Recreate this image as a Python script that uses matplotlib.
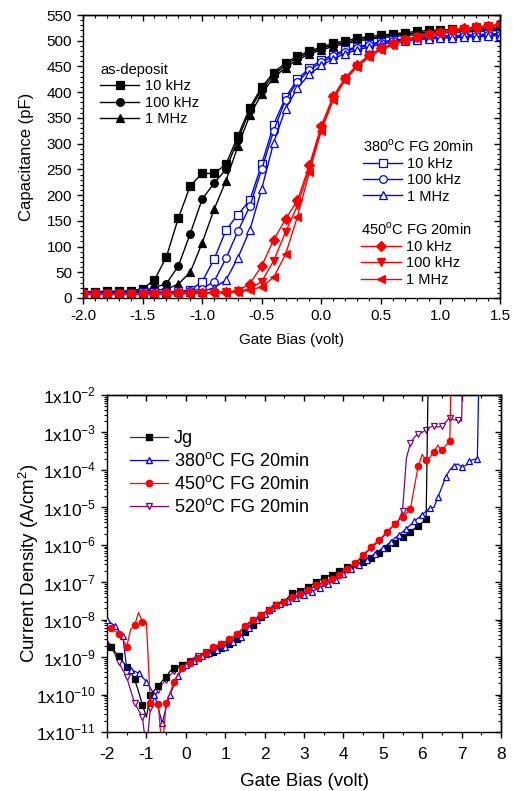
import numpy as np
import matplotlib
matplotlib.use("Agg")
import matplotlib.pyplot as plt
from matplotlib.ticker import MultipleLocator, LogLocator, NullFormatter, FuncFormatter
from matplotlib.lines import Line2D
from matplotlib.legend import Legend

plt.rcParams['font.family'] = ['Liberation Sans', 'DejaVu Sans']
plt.rcParams['axes.unicode_minus'] = False
plt.rcParams['mathtext.fontset'] = 'custom'
plt.rcParams['mathtext.rm'] = 'Liberation Sans'

# ---- C-V data (top panel), pF ----
cv_bias = np.round(np.arange(-2.0, 1.51, 0.1), 1)

asdep_10k = [12, 12, 13, 13, 14, 18, 35, 80, 155, 218, 242, 242, 260, 315, 370, 410, 438, 457,
             470, 480, 488, 495, 500, 505, 508, 511, 513, 516, 518, 520, 521, 522, 523, 524, 525, 526]
asdep_100k = [11, 11, 12, 12, 13, 14, 20, 28, 62, 125, 192, 223, 250, 308, 365, 405, 433, 453,
              467, 477, 485, 492, 497, 502, 505, 508, 511, 513, 515, 517, 518, 519, 520, 521, 522, 523]
asdep_1M = [10, 10, 11, 11, 12, 13, 15, 17, 27, 50, 107, 172, 228, 295, 355, 397, 428, 448,
            463, 474, 482, 489, 494, 499, 503, 506, 508, 510, 512, 514, 515, 516, 517, 518, 519, 520]

fg380_10k = [10, 10, 10, 10, 10, 11, 11, 12, 13, 15, 32, 75, 132, 162, 190, 260, 337, 390,
             425, 447, 462, 473, 482, 488, 493, 498, 501, 504, 506, 508, 509, 510, 511, 512, 513, 514]
fg380_100k = [9, 9, 9, 9, 10, 10, 10, 11, 12, 13, 18, 32, 77, 130, 178, 250, 325, 385,
              420, 443, 458, 470, 479, 486, 491, 496, 499, 502, 504, 506, 507, 508, 509, 510, 511, 512]
fg380_1M = [8, 8, 8, 9, 9, 9, 10, 10, 11, 12, 12, 20, 35, 78, 132, 212, 302, 368,
            408, 435, 452, 465, 475, 482, 488, 493, 497, 500, 502, 504, 505, 506, 507, 508, 509, 510]

fg450_10k = [9, 8, 8, 8, 8, 8, 8, 9, 9, 10, 10, 11, 12, 14, 28, 62, 113, 153,
             190, 258, 335, 392, 428, 453, 472, 485, 494, 502, 508, 513, 517, 521, 524, 527, 529, 532]
fg450_100k = [8, 8, 8, 8, 8, 8, 8, 8, 9, 9, 9, 10, 11, 13, 18, 32, 72, 128,
              180, 252, 330, 388, 426, 451, 470, 483, 493, 501, 507, 512, 516, 520, 523, 526, 528, 531]
fg450_1M = [7, 7, 7, 7, 7, 7, 7, 8, 8, 8, 9, 9, 10, 12, 15, 22, 40, 85,
            158, 245, 325, 385, 424, 449, 468, 482, 492, 500, 506, 511, 515, 519, 522, 525, 527, 530]

freq_labels = ['10 kHz', '100 kHz', '1 MHz']

# ---- J-V data (bottom panel), A/cm2 ----
iv_bias = np.round(np.arange(-2.0, 7.51, 0.1), 1)

jg = [2.5e-9, 1.9e-9, 1.4e-9, 1.05e-9, 7.5e-10, 5.6e-10, 4.0e-10, 2.6e-10, 1.2e-10, 5.3e-11,
      2.5e-11, 9.5e-11, 1.3e-10, 1.7e-10, 2.3e-10, 3.0e-10, 4.2e-10, 5.0e-10, 5.5e-10, 6.3e-10,
      7.0e-10, 7.6e-10, 8.6e-10, 9.7e-10, 1.1e-9, 1.2e-9, 1.3e-9, 1.4e-9, 1.55e-9, 1.7e-9,
      1.9e-9, 2.2e-9, 2.6e-9, 3.0e-9, 3.7e-9, 4.6e-9, 5.8e-9, 7.2e-9, 9.5e-9, 1.2e-8,
      1.5e-8, 1.8e-8, 2.1e-8, 2.5e-8, 2.8e-8, 3.0e-8, 4.0e-8, 5.1e-8, 5.5e-8, 5.9e-8,
      6.6e-8, 7.4e-8, 8.6e-8, 1.0e-7, 1.15e-7, 1.3e-7, 1.45e-7, 1.6e-7, 1.8e-7, 2.0e-7,
      2.2e-7, 2.5e-7, 2.7e-7, 3.0e-7, 3.2e-7, 3.5e-7, 3.9e-7, 4.4e-7, 5.1e-7, 5.9e-7,
      6.9e-7, 8.1e-7, 9.6e-7, 1.15e-6, 1.4e-6, 1.66e-6, 1.9e-6, 2.2e-6, 2.7e-6, 3.2e-6,
      3.9e-6, 4.8e-6, 1.0e+2]

fg380 = [1.0e-8, 8.2e-9, 6.8e-9, 5.0e-9, 3.7e-9, 5.0e-10, 4.6e-10, 4.2e-10, 3.7e-10, 2.9e-10,
         2.2e-10, 1.5e-10, 1.0e-10, 4.5e-11, 1.7e-11, 4.5e-11, 1.0e-10, 1.8e-10, 3.2e-10, 4.5e-10,
         6.3e-10, 7.2e-10, 8.0e-10, 9.2e-10, 1.05e-9, 1.15e-9, 1.25e-9, 1.4e-9, 1.55e-9, 1.7e-9,
         1.9e-9, 2.2e-9, 2.5e-9, 3.0e-9, 3.5e-9, 4.5e-9, 6.0e-9, 7.8e-9, 1.0e-8, 1.2e-8,
         1.4e-8, 1.7e-8, 2.0e-8, 2.3e-8, 2.6e-8, 2.9e-8, 3.2e-8, 3.5e-8, 3.8e-8, 4.2e-8,
         4.6e-8, 5.1e-8, 5.6e-8, 6.3e-8, 7.0e-8, 8.0e-8, 9.0e-8, 1.0e-7, 1.15e-7, 1.4e-7,
         1.7e-7, 1.9e-7, 2.2e-7, 2.5e-7, 2.8e-7, 3.3e-7, 4.0e-7, 4.8e-7, 5.8e-7, 7.0e-7,
         8.1e-7, 9.8e-7, 1.2e-6, 1.5e-6, 1.8e-6, 2.2e-6, 2.7e-6, 3.4e-6, 4.2e-6, 5.2e-6,
         6.3e-6, 8.0e-6, 9.8e-6, 1.0e-5, 1.9e-5, 3.5e-5, 6.6e-5, 1.0e-4, 1.27e-4, 1.45e-4,
         1.2e-4, 1.3e-4, 1.7e-4, 1.9e-4, 2.0e-4, 1.0e+2]

fg450 = [6.5e-9, 6.0e-9, 5.0e-9, 4.2e-9, 3.0e-9, 1.9e-9, 5.5e-9, 7.1e-9, 1.55e-8, 8.9e-9,
         8.5e-9, 5.9e-11, 5.5e-11, 5.7e-11, 3.0e-12, 5.9e-11, 1.1e-10, 2.2e-10, 3.5e-10, 5.0e-10,
         6.5e-10, 7.0e-10, 8.2e-10, 9.5e-10, 1.1e-9, 1.3e-9, 1.5e-9, 1.9e-9, 2.1e-9, 2.3e-9,
         2.6e-9, 3.0e-9, 3.5e-9, 4.2e-9, 5.3e-9, 6.9e-9, 8.5e-9, 1.0e-8, 1.15e-8, 1.35e-8,
         1.55e-8, 1.8e-8, 2.1e-8, 2.5e-8, 2.7e-8, 3.0e-8, 3.5e-8, 4.0e-8, 4.4e-8, 4.8e-8,
         5.5e-8, 6.3e-8, 7.2e-8, 8.2e-8, 9.0e-8, 1.0e-7, 1.1e-7, 1.2e-7, 1.4e-7, 1.6e-7,
         1.9e-7, 2.2e-7, 2.6e-7, 3.2e-7, 4.2e-7, 5.4e-7, 6.8e-7, 8.5e-7, 1.1e-6, 1.35e-6,
         1.7e-6, 2.2e-6, 2.8e-6, 3.6e-6, 4.5e-6, 5.6e-6, 7.0e-6, 8.9e-6, 3.5e-5, 1.26e-4,
         2.6e-4, 1.8e-4, 2.2e-4, 3.1e-4, 4.6e-4, 3.3e-4, 4.5e-4, 5.9e-4, 1.0e+2]

fg520 = [2.9e-9, 1.9e-9, 1.2e-9, 7.2e-10, 4.5e-10, 2.9e-10, 1.3e-10, 5.9e-11, 3.8e-11, 2.5e-11,
         3.0e-12, 4.4e-11, 8.0e-11, 1.35e-10, 1.9e-10, 2.5e-10, 3.3e-10, 4.2e-10, 5.2e-10, 6.3e-10,
         7.0e-10, 8.0e-10, 9.5e-10, 1.1e-9, 1.2e-9, 1.35e-9, 1.5e-9, 1.7e-9, 1.9e-9, 2.2e-9,
         2.5e-9, 2.9e-9, 3.4e-9, 4.0e-9, 5.0e-9, 6.4e-9, 8.0e-9, 9.6e-9, 1.1e-8, 1.3e-8,
         1.5e-8, 1.75e-8, 2.0e-8, 2.4e-8, 2.6e-8, 2.9e-8, 3.4e-8, 3.9e-8, 4.3e-8, 4.7e-8,
         5.3e-8, 6.1e-8, 7.0e-8, 8.0e-8, 8.8e-8, 9.8e-8, 1.08e-7, 1.18e-7, 1.35e-7, 1.55e-7,
         1.8e-7, 2.1e-7, 2.5e-7, 3.0e-7, 3.9e-7, 5.0e-7, 6.4e-7, 8.0e-7, 1.0e-6, 1.3e-6,
         1.6e-6, 2.1e-6, 2.7e-6, 3.5e-6, 4.4e-6, 8.1e-6, 2.1e-4, 5.1e-4, 7.5e-4, 9.1e-4,
         1.0e-3, 1.2e-3, 1.4e-3, 1.48e-3, 1.4e-3, 1.48e-3, 1.9e-3, 2.5e-3, 2.2e-3, 2.1e-3,
         2.0e-3, 1.0e+2]

iv_labels = ['Jg', '380$^{\\mathregular{o}}$C FG 20min', '450$^{\\mathregular{o}}$C FG 20min',
             '520$^{\\mathregular{o}}$C FG 20min']

BLUE = '#0000ff'
RED = '#ff0000'
PURPLE = '#800080'


def mirror_ticks(ax, xmaj, xmin, ymaj, ymin, logy=False):
    # origin style: ticks out on bottom/left, in on top/right
    ax.tick_params(which='major', direction='out', length=4.5, width=1.0)
    ax.tick_params(which='minor', direction='out', length=2.5, width=0.8)
    top = ax.secondary_xaxis('top')
    top.xaxis.set_major_locator(MultipleLocator(xmaj))
    top.xaxis.set_minor_locator(MultipleLocator(xmin))
    top.xaxis.set_major_formatter(NullFormatter())
    top.tick_params(which='major', direction='in', length=4, width=1.0)
    top.tick_params(which='minor', direction='in', length=2.5, width=0.8)
    right = ax.secondary_yaxis('right')
    if logy:
        right.yaxis.set_major_locator(LogLocator(base=10, numticks=20))
        right.yaxis.set_minor_locator(LogLocator(base=10, subs=np.arange(2, 10), numticks=20))
        right.yaxis.set_minor_formatter(NullFormatter())
    else:
        right.yaxis.set_major_locator(MultipleLocator(ymaj))
        right.yaxis.set_minor_locator(MultipleLocator(ymin))
    right.yaxis.set_major_formatter(NullFormatter())
    right.tick_params(which='major', direction='in', length=4, width=1.0)
    right.tick_params(which='minor', direction='in', length=2.5, width=0.8)
    for sec in (top, right):
        for s in sec.spines.values():
            s.set_linewidth(1.0)


fig = plt.figure(figsize=(5.14, 7.91), dpi=100)

# ---------------- top panel: C-V ----------------
ax1 = fig.add_axes([0.1615, 0.6233, 0.8113, 0.3577])
groups = [
    ('as-deposit', 'k', [asdep_10k, asdep_100k, asdep_1M], ['s', 'o', '^'], 'k', (0.041, 0.83)),
    ('380$^{\\mathregular{o}}$C FG 20min', BLUE, [fg380_10k, fg380_100k, fg380_1M], ['s', 'o', '^'], 'white', (0.671, 0.566)),
    ('450$^{\\mathregular{o}}$C FG 20min', RED, [fg450_10k, fg450_100k, fg450_1M], ['D', 'v', '<'], RED, (0.667, 0.272)),
]
for title, col, series, marks, face, anchor in groups:
    handles = []
    for vals, mk in zip(series, marks):
        ms = 5.0 if mk == 'D' else 5.5
        ax1.plot(cv_bias, vals, color=col, marker=mk, ms=ms, mfc=face, mec=col, lw=1.0, mew=0.9)
        handles.append(Line2D([], [], color=col, marker=mk, ms=ms, mfc=face, mec=col, lw=1.0, mew=0.9))
    leg = Legend(ax1, handles, freq_labels, title=title, loc='upper left', bbox_to_anchor=anchor,
                 frameon=False, fontsize=10.5, title_fontsize=10.5, handlelength=2.7,
                 handletextpad=0.35, labelspacing=0.16, borderpad=0, borderaxespad=0,
                 alignment='left')
    ax1.add_artist(leg)

ax1.set_xlim(-2.0, 1.5)
ax1.set_ylim(0, 550)
ax1.xaxis.set_major_locator(MultipleLocator(0.5))
ax1.xaxis.set_minor_locator(MultipleLocator(0.1))
ax1.yaxis.set_major_locator(MultipleLocator(50))
ax1.yaxis.set_minor_locator(MultipleLocator(10))
ax1.xaxis.set_major_formatter(FuncFormatter(lambda v, p: '%.1f' % v))
mirror_ticks(ax1, 0.5, 0.1, 50, 10)
ax1.tick_params(labelsize=11)
ax1.set_xlabel('Gate Bias (volt)', fontsize=11, labelpad=7)
ax1.set_ylabel('Capacitance (pF)', fontsize=12, labelpad=9)
for s in ax1.spines.values():
    s.set_linewidth(1.0)

# ---------------- bottom panel: J-V ----------------
ax2 = fig.add_axes([0.2082, 0.0746, 0.7665, 0.426])
iv_series = [
    (fg520, PURPLE, 'v', 'white', (1, 2), 1),
    (jg, 'k', 's', 'k', (1, 2), 2),
    (fg380, BLUE, '^', 'white', (0, 2), 3),
    (fg450, RED, 'o', RED, (1, 2), 4),
]
for vals, col, mk, face, every, z in iv_series:
    ax2.plot(iv_bias[:len(vals)], vals, color=col, marker=mk, ms=4.6, mfc=face, mec=col,
             lw=0.9, mew=0.9, markevery=every, zorder=z)

leg_handles = [
    Line2D([], [], color='#333333', marker='s', ms=4.6, mfc='k', mec='k', lw=0.9),
    Line2D([], [], color=BLUE, marker='^', ms=4.6, mfc='white', mec=BLUE, lw=0.9),
    Line2D([], [], color=RED, marker='o', ms=4.6, mfc=RED, mec=RED, lw=0.9),
    Line2D([], [], color=PURPLE, marker='v', ms=4.6, mfc='white', mec=PURPLE, lw=0.9),
]
ax2.legend(leg_handles, iv_labels, loc='upper left', bbox_to_anchor=(0.058, 0.895), frameon=False,
           fontsize=13, handlelength=2.1, handletextpad=0.35, labelspacing=0.27, borderpad=0,
           borderaxespad=0)

ax2.set_yscale('log')
ax2.set_xlim(-2, 8)
ax2.set_ylim(1e-11, 1e-2)
ax2.xaxis.set_major_locator(MultipleLocator(1))
ax2.xaxis.set_minor_locator(MultipleLocator(0.5))
ax2.yaxis.set_major_locator(LogLocator(base=10, numticks=20))
ax2.yaxis.set_minor_locator(LogLocator(base=10, subs=np.arange(2, 10), numticks=20))
ax2.yaxis.set_minor_formatter(NullFormatter())
ax2.yaxis.set_major_formatter(FuncFormatter(
    lambda v, p: '1x10$^{\\mathregular{%d}}$' % int(round(np.log10(v)))))
mirror_ticks(ax2, 1, 0.5, None, None, logy=True)
ax2.tick_params(labelsize=12.5)
ax2.tick_params(axis='x', pad=6)
ax2.set_xlabel('Gate Bias (volt)', fontsize=13.5, labelpad=8)
ax2.set_ylabel('Current Density (A/cm$^{\\mathregular{2}}$)', fontsize=13.5, labelpad=-4)
for s in ax2.spines.values():
    s.set_linewidth(1.0)

fig.savefig('out.png', dpi=100)
